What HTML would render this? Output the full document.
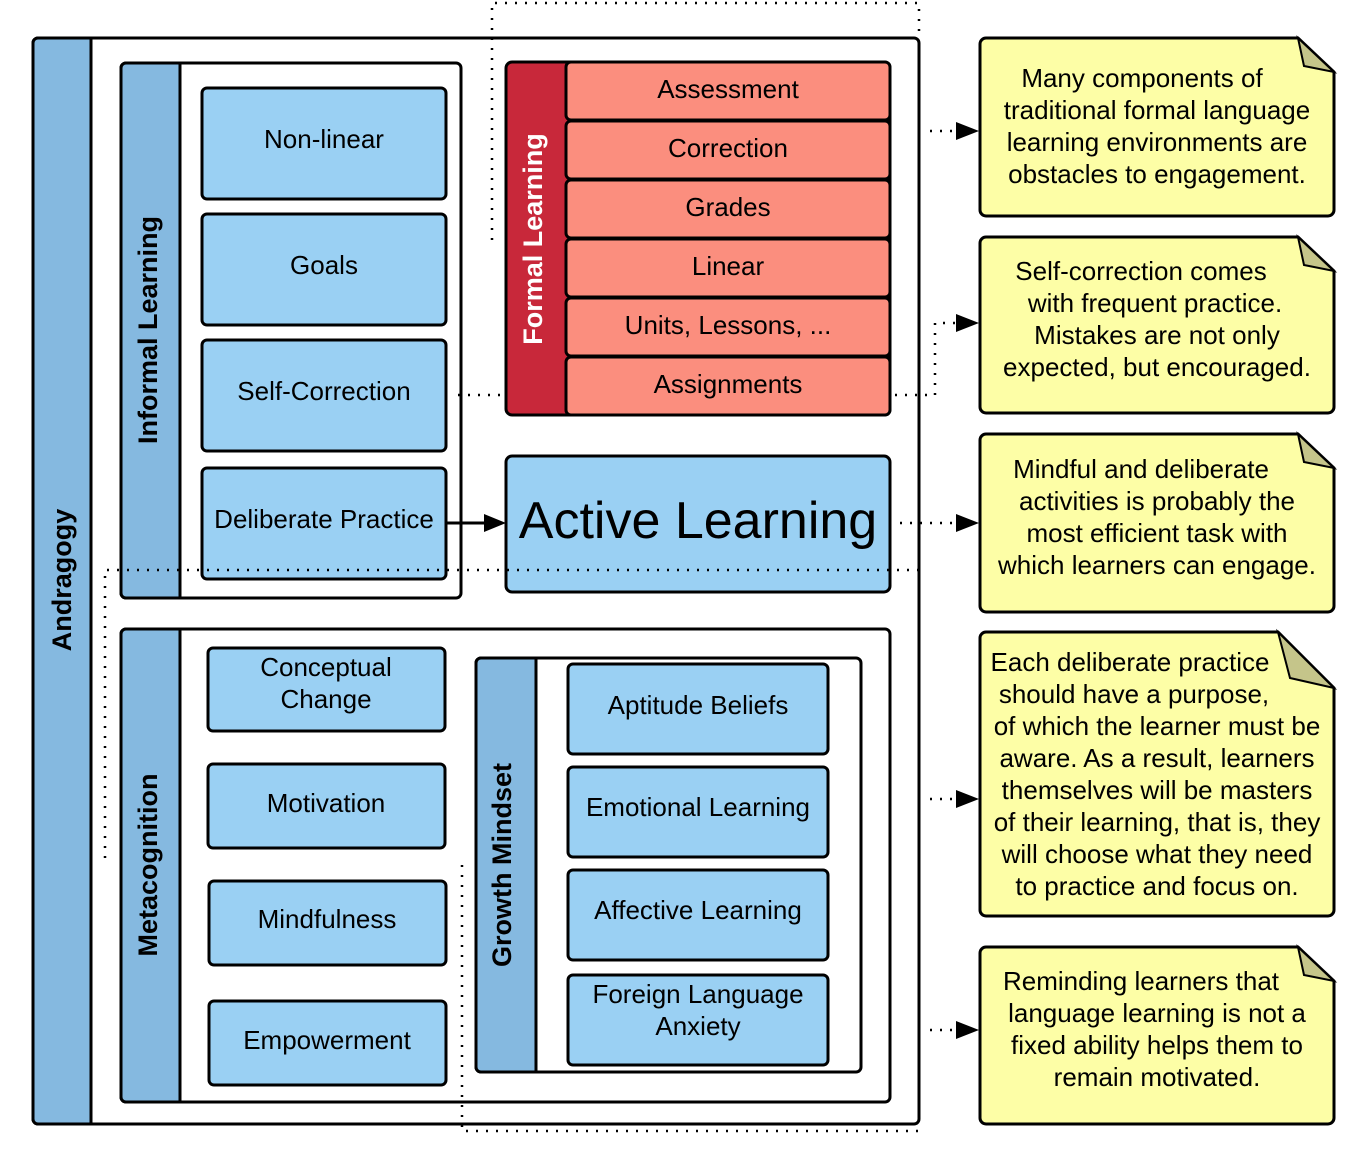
<!DOCTYPE html>
<html><head><meta charset="utf-8"><style>body{margin:0;background:#fff}svg{display:block}text{font-family:"Liberation Sans",sans-serif}</style></head><body>
<svg width="1356" height="1167" viewBox="0 0 1356 1167" xmlns="http://www.w3.org/2000/svg">
<g stroke="#000" stroke-width="3">
<rect x="33" y="38" width="886" height="1086" rx="5" fill="#fff"/>
<path d="M38,38 H91 V1124 H38 a5,5 0 0 1 -5,-5 V43 a5,5 0 0 1 5,-5Z" fill="#85b9e0"/>
<rect x="121" y="63" width="340" height="535" rx="5" fill="#fff"/>
<path d="M126,63 H180 V598 H126 a5,5 0 0 1 -5,-5 V68 a5,5 0 0 1 5,-5Z" fill="#85b9e0"/>
<rect x="121" y="629" width="769" height="473" rx="5" fill="#fff"/>
<path d="M126,629 H180 V1102 H126 a5,5 0 0 1 -5,-5 V634 a5,5 0 0 1 5,-5Z" fill="#85b9e0"/>
<rect x="476" y="658" width="385" height="414" rx="5" fill="#fff"/>
<path d="M481,658 H536 V1072 H481 a5,5 0 0 1 -5,-5 V663 a5,5 0 0 1 5,-5Z" fill="#85b9e0"/>
<rect x="506" y="62" width="384" height="353" rx="6" fill="#c8283a"/>
<g fill="#fb8e7e">
<rect x="566" y="62" width="324" height="58" rx="5"/><rect x="566" y="121" width="324" height="58" rx="5"/><rect x="566" y="180" width="324" height="58" rx="5"/><rect x="566" y="239" width="324" height="58" rx="5"/><rect x="566" y="298" width="324" height="58" rx="5"/><rect x="566" y="357" width="324" height="58" rx="5"/>
</g>
<g fill="#9ad0f3">
<rect x="202" y="88" width="244" height="111" rx="5"/><rect x="202" y="214" width="244" height="111" rx="5"/><rect x="202" y="340" width="244" height="111" rx="5"/><rect x="202" y="468" width="244" height="111" rx="5"/>
<rect x="506" y="456" width="384" height="136" rx="6"/>
<rect x="208" y="648" width="237" height="83" rx="5"/><rect x="208" y="764" width="237" height="84" rx="5"/><rect x="209" y="881" width="237" height="84" rx="5"/><rect x="209" y="1001" width="237" height="84" rx="5"/>
<rect x="568" y="664" width="260" height="90" rx="5"/><rect x="568" y="767" width="260" height="90" rx="5"/><rect x="568" y="870" width="260" height="90" rx="5"/><rect x="568" y="975" width="260" height="90" rx="5"/>
</g>
<g fill="#fdfea6">
<path d="M986,38 H1298 L1334,72 V210 a6,6 0 0 1 -6,6 H986 a6,6 0 0 1 -6,-6 V44 a6,6 0 0 1 6,-6Z"/>
<path d="M986,237 H1298 L1334,271 V407 a6,6 0 0 1 -6,6 H986 a6,6 0 0 1 -6,-6 V243 a6,6 0 0 1 6,-6Z"/>
<path d="M986,434 H1298 L1334,468 V606 a6,6 0 0 1 -6,6 H986 a6,6 0 0 1 -6,-6 V440 a6,6 0 0 1 6,-6Z"/>
<path d="M986,632 H1278 L1334,688 V910 a6,6 0 0 1 -6,6 H986 a6,6 0 0 1 -6,-6 V638 a6,6 0 0 1 6,-6Z"/>
<path d="M986,947 H1298 L1334,981 V1118 a6,6 0 0 1 -6,6 H986 a6,6 0 0 1 -6,-6 V953 a6,6 0 0 1 6,-6Z"/>
</g>
<g fill="#c5c58a" stroke-width="2">
<path d="M1298,38 L1334,72 L1304,66Z"/><path d="M1298,237 L1334,271 L1304,265Z"/><path d="M1298,434 L1334,468 L1304,462Z"/><path d="M1278,632 L1334,688 L1290,678Z"/><path d="M1298,947 L1334,981 L1304,975Z"/>
</g>
</g>
<g stroke="#000" stroke-width="2.5" fill="none" stroke-dasharray="2 8">
<path d="M492,240 V3 H919 V38"/>
<path d="M458,395 H506"/>
<path d="M895,395 H935 V323 H958"/>
<path d="M930,131 H958"/>
<path d="M900,523 H958"/>
<path d="M930,799 H958"/>
<path d="M930,1030 H958"/>
<path d="M919,570 H105 V865"/>
<path d="M462,865 V1131 H919 V1124"/>
</g>
<g fill="#000">
<path d="M956,122 L979,131 L956,140Z"/><path d="M956,314 L979,323 L956,332Z"/><path d="M956,514 L979,523 L956,532Z"/><path d="M956,790 L979,799 L956,808Z"/><path d="M956,1021 L979,1030 L956,1039Z"/>
<path d="M484,514 L506,523 L484,532Z"/>
</g>
<path d="M446,523 H486" stroke="#000" stroke-width="3"/>
<g font-weight="bold" font-size="27" text-anchor="middle">
<text transform="translate(71,580) rotate(-90)">Andragogy</text>
<text transform="translate(157,330) rotate(-90)">Informal Learning</text>
<text transform="translate(157,865) rotate(-90)">Metacognition</text>
<text transform="translate(511,865) rotate(-90)">Growth Mindset</text>
<text transform="translate(542,239) rotate(-90)" fill="#fff">Formal Learning</text>
</g>
<g font-size="26" text-anchor="middle">
<text x="728" y="98">Assessment</text><text x="728" y="157">Correction</text><text x="728" y="216">Grades</text><text x="728" y="275">Linear</text><text x="728" y="334">Units, Lessons, ...</text><text x="728" y="393">Assignments</text>
<text x="324" y="148">Non-linear</text><text x="324" y="274">Goals</text><text x="324" y="400">Self-Correction</text><text x="324" y="528">Deliberate Practice</text>
<text x="326" y="676">Conceptual</text><text x="326" y="708">Change</text>
<text x="326" y="812">Motivation</text><text x="327" y="928">Mindfulness</text><text x="327" y="1049">Empowerment</text>
<text x="698" y="714">Aptitude Beliefs</text><text x="698" y="816">Emotional Learning</text><text x="698" y="919">Affective Learning</text>
<text x="698" y="1003">Foreign Language</text><text x="698" y="1035">Anxiety</text>
<text x="698" y="538" font-size="52">Active Learning</text>
</g>
<g font-size="26" text-anchor="middle">
<text x="1142" y="87">Many components of</text><text x="1157" y="119">traditional formal language</text><text x="1157" y="151">learning environments are</text><text x="1157" y="183">obstacles to engagement.</text>
<text x="1141" y="280">Self-correction comes</text><text x="1155" y="312">with frequent practice.</text><text x="1157" y="344">Mistakes are not only</text><text x="1157" y="376">expected, but encouraged.</text>
<text x="1141" y="478">Mindful and deliberate</text><text x="1157" y="510">activities is probably the</text><text x="1157" y="542">most efficient task with</text><text x="1157" y="574">which learners can engage.</text>
<text x="1130" y="671">Each deliberate practice</text><text x="1134" y="703">should have a purpose,</text><text x="1157" y="735">of which the learner must be</text><text x="1157" y="767">aware. As a result, learners</text><text x="1157" y="799">themselves will be masters</text><text x="1157" y="831">of their learning, that is, they</text><text x="1157" y="863">will choose what they need</text><text x="1157" y="895">to practice and focus on.</text>
<text x="1141" y="990">Reminding learners that</text><text x="1157" y="1022">language learning is not a</text><text x="1157" y="1054">fixed ability helps them to</text><text x="1157" y="1086">remain motivated.</text>
</g>
</svg>
</body></html>
